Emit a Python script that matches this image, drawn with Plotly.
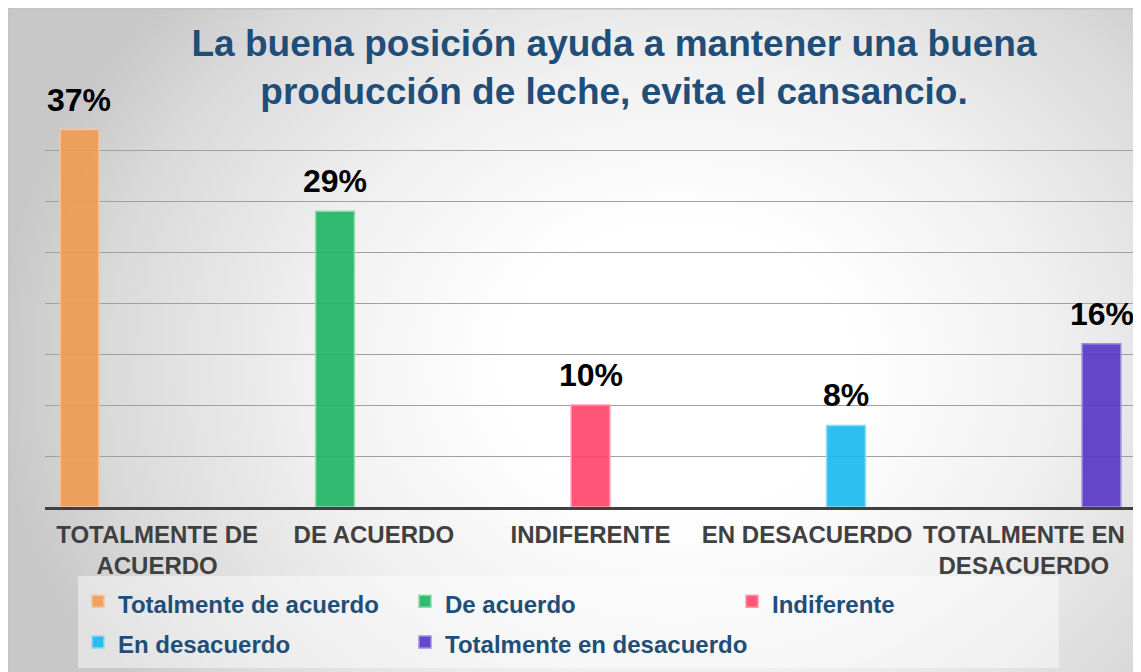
import base64
import plotly.graph_objects as go

# ---------------- data ----------------
categories = ["TOTALMENTE DE<br>ACUERDO", "DE ACUERDO", "INDIFERENTE",
              "EN DESACUERDO", "TOTALMENTE EN<br>DESACUERDO"]
series_names = ["Totalmente de acuerdo", "De acuerdo", "Indiferente",
                "En desacuerdo", "Totalmente en desacuerdo"]
values = [37, 29, 10, 8, 16]
value_labels = ["37%", "29%", "10%", "8%", "16%"]
title_text = ("La buena posición ayuda a mantener una buena<br>"
              "producción de leche, evita el cansancio.")

# ---------------- style ----------------
fill_colors = ["rgba(241,154,82,0.9)", "rgba(28,180,98,0.9)", "rgba(255,68,104,0.9)",
               "rgba(22,184,238,0.9)", "rgba(85,53,196,0.9)"]
line_colors = ["#F8C49A", "#8EDCA8", "#FF9AB0", "#8ADAF6", "#A08CE0"]
FONT = "Liberation Sans, Arial, sans-serif"
W, H = 1141, 672
OFF = 8  # page body margin: window coords = figure coords + OFF
# plot area in window coordinates: x 45..1136, y 99..507
ML = 45 - OFF
MT = 99 - OFF
MR = W - (1136 - OFF)
MB = H - (507 - OFF)
PW, PH = W - ML - MR, H - MT - MB
BARGAP = 0.105
slot_px = PW / len(categories) * (1 - BARGAP) / len(series_names)


def px2x(px):  # window px -> paper x
    return (px - OFF - ML) / PW


def px2y(py):  # window px -> paper y
    return (H - MB - (py - OFF)) / PH


# radial gradient background as inline SVG
svg = """<svg xmlns='http://www.w3.org/2000/svg' width='1141' height='672' viewBox='0 0 1141 672' preserveAspectRatio='none'>
<defs><radialGradient id='g' gradientUnits='userSpaceOnUse' cx='0' cy='0' r='1'
 gradientTransform='translate(670 360) scale(680 560)'>
<stop offset='0' stop-color='#FFFFFF'/>
<stop offset='0.25' stop-color='#FFFFFF'/>
<stop offset='0.55' stop-color='#F0F0F0'/>
<stop offset='0.85' stop-color='#D9D9D9'/>
<stop offset='1' stop-color='#C8C8C8'/>
</radialGradient></defs>
<rect x='0' y='0' width='1141' height='672' fill='url(#g)'/>
</svg>"""
svg_uri = "data:image/svg+xml;base64," + base64.b64encode(svg.encode()).decode()

fig = go.Figure()
for j, name in enumerate(series_names):
    yv = [values[i] if i == j else None for i in range(len(categories))]
    fig.add_trace(go.Bar(
        x=categories, y=yv, name=f"<span style='font-size:24px'>{name}</span>",
        marker=dict(color=fill_colors[j], line=dict(color=line_colors[j], width=1.5)),
        hoverinfo="skip",
    ))

annotations = []
n = len(series_names)
for j in range(n):
    annotations.append(dict(
        x=categories[j], y=values[j], xref="x", yref="y",
        text=f"<b>{value_labels[j]}</b>", showarrow=False,
        xanchor="center", yanchor="bottom",
        xshift=(j - (n - 1) / 2) * slot_px, yshift=10,
        font=dict(family=FONT, size=32, color="#000000"),
    ))

fig.update_layout(
    width=W, height=H,
    margin=dict(l=ML, r=MR, t=MT, b=MB, autoexpand=False),
    paper_bgcolor="#FFFFFF",
    plot_bgcolor="rgba(0,0,0,0)",
    barmode="group", bargap=BARGAP, bargroupgap=0,
    title=dict(text=f"<b>{title_text}</b>", x=px2x(614), xref="paper", xanchor="center",
               y=1 - (56 - OFF) / H, yref="container", yanchor="middle",
               font=dict(family=FONT, size=37, color="#1F4E79")),
    xaxis=dict(showline=True, linecolor="#404040", linewidth=3, ticks="",
               ticklabelstandoff=4, showgrid=False,
               tickfont=dict(family=FONT, size=24, color="#404040", weight="bold")),
    yaxis=dict(range=[0, 40], dtick=5, showgrid=True, gridcolor="#A0A0A0", gridwidth=1,
               showticklabels=False, zeroline=False, ticks=""),
    legend=dict(orientation="h", x=px2x(78), y=px2y(576), xanchor="left", yanchor="top",
                bgcolor="rgba(255,255,255,0.45)", entrywidth=282, entrywidthmode="pixels",
                font=dict(family=FONT, size=29, color="#1F4E79", weight="bold"),
                traceorder="normal"),
    annotations=annotations,
    images=[dict(source=svg_uri, xref="paper", yref="paper", x=-ML / PW, y=1 + MT / PH,
                 sizex=W / PW, sizey=H / PH, sizing="stretch",
                 xanchor="left", yanchor="top", layer="below")],
    shapes=[dict(type="rect", xref="paper", yref="paper", x0=-ML / PW + 0.0005,
                 y0=-MB / PH - 0.01, x1=1 + MR / PW + 0.01, y1=1 + MT / PH - 0.001,
                 line=dict(color="#C4C4C4", width=2),
                 fillcolor="rgba(0,0,0,0)", layer="below")],
)

fig.write_html("out.html")
